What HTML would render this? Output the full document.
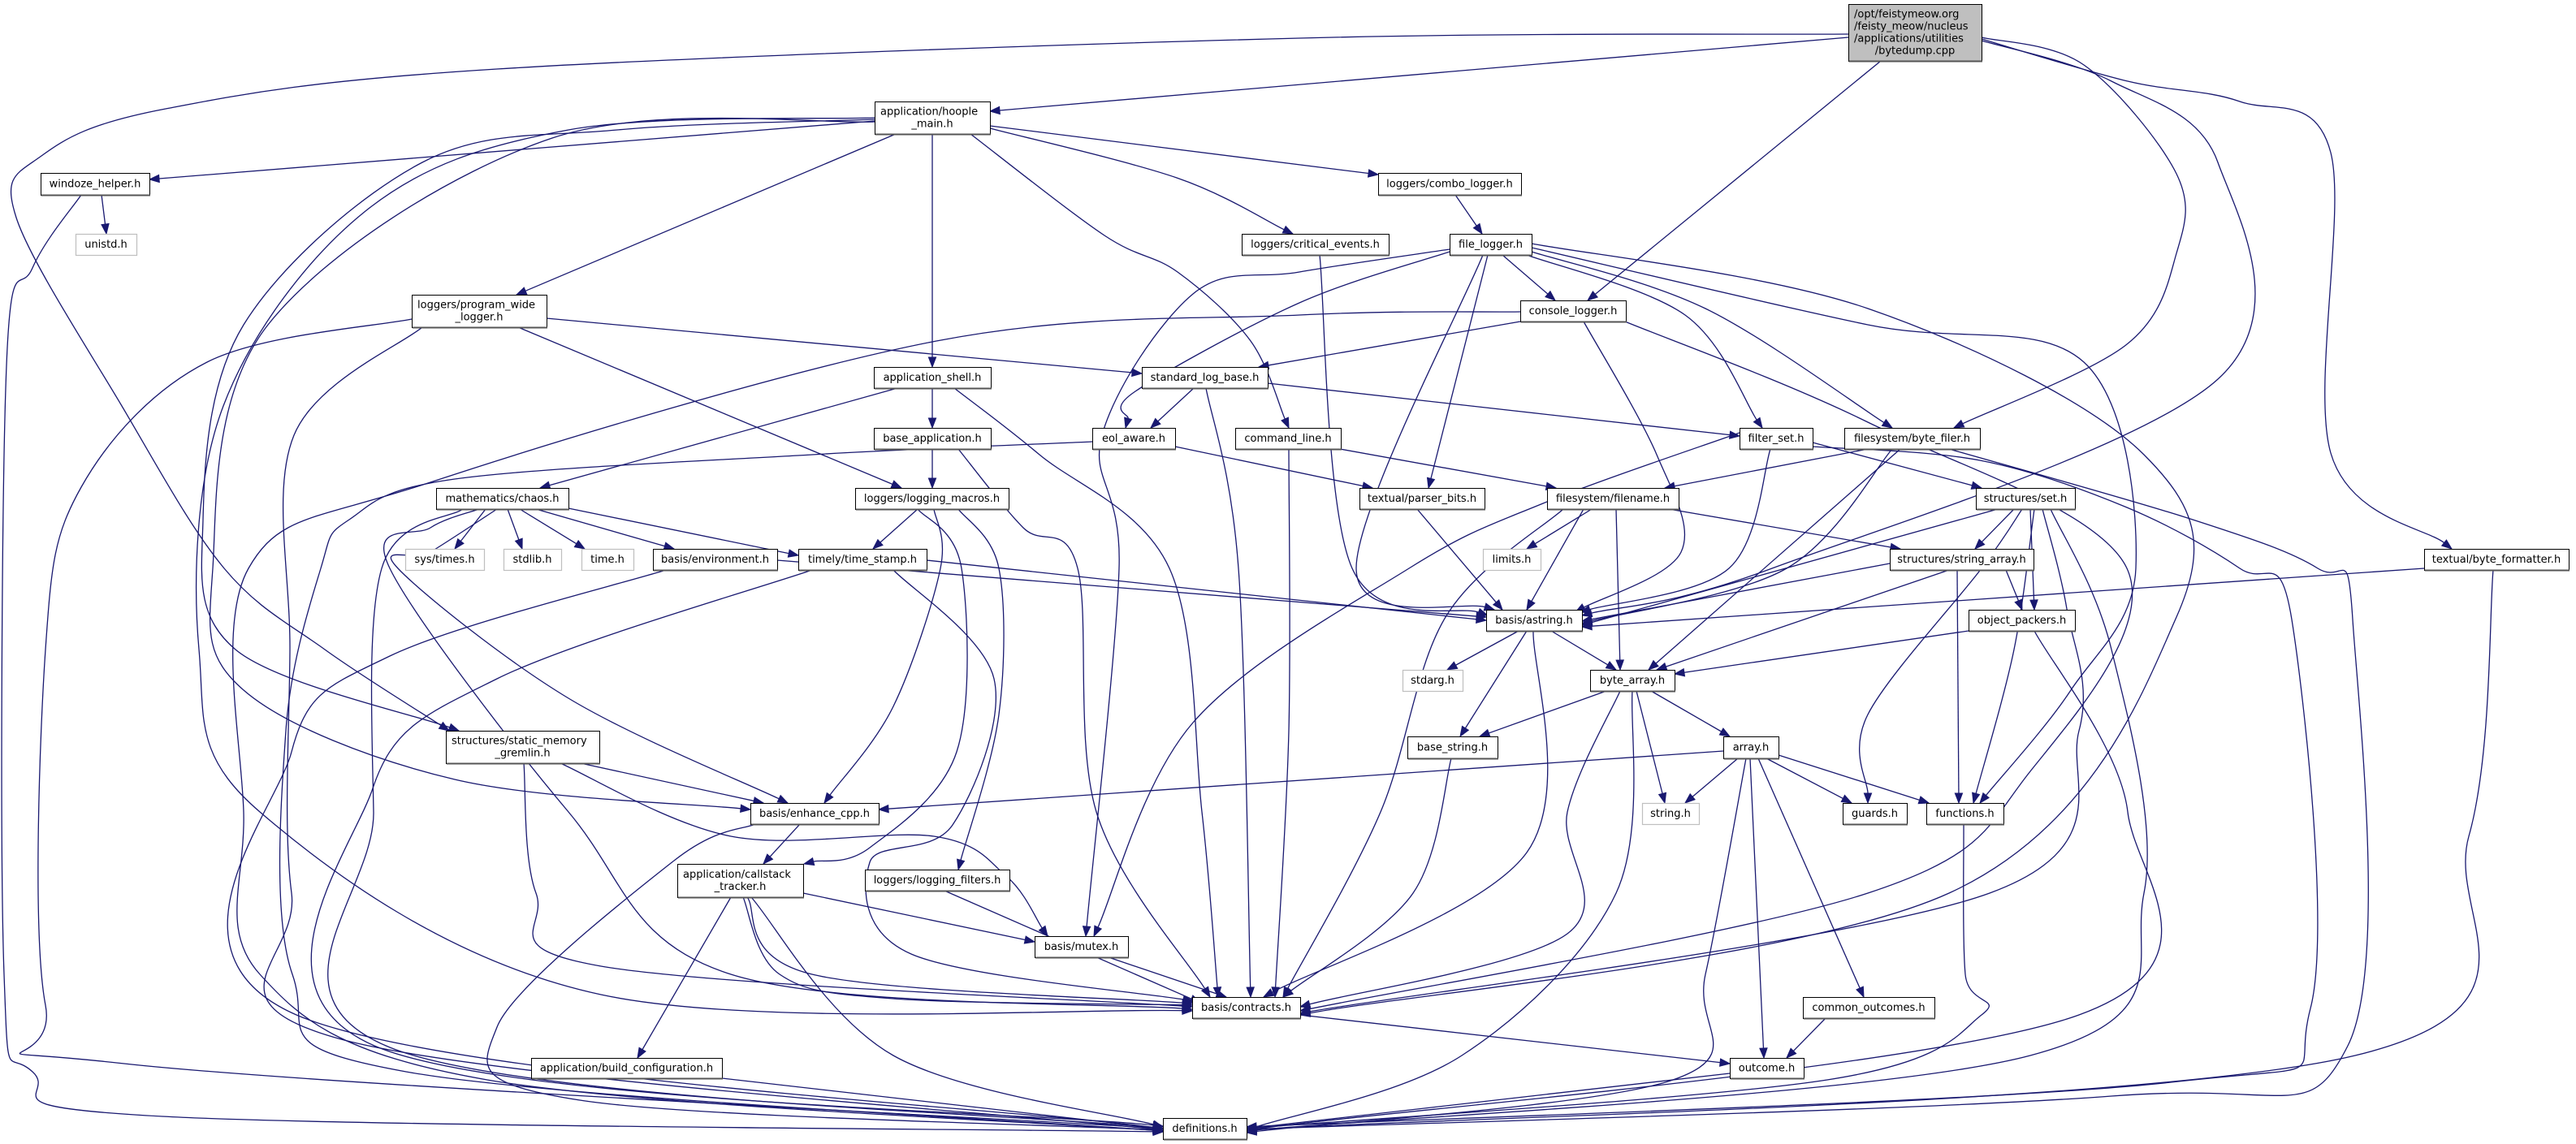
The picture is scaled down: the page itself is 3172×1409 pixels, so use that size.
<!DOCTYPE html>
<html><head><meta charset="utf-8"><style>
html,body{margin:0;padding:0;background:#fff;}
svg{display:block;}
text{font-family:"DejaVu Sans","Liberation Sans",sans-serif;font-size:13px;fill:#000;}
</style></head><body>
<svg id="g" xmlns="http://www.w3.org/2000/svg" width="3172" height="1409" viewBox="0 0 3172 1409">
<g id="edges" fill="none" stroke="#191970" stroke-width="1.3"></g>
<g id="heads" fill="#191970" stroke="#191970" stroke-width="1"></g>
<g id="nodes"></g>
</svg>
<script>
(function(){
var N={
root:[2276,5,2440,75,["/opt/feistymeow.org","/feisty_meow/nucleus","/applications/utilities","/bytedump.cpp"],2],
hoople:[1077,125,1219,165,["application/hoople","_main.h"]],
windoze:[50,213,184,240,["windoze_helper.h"]],
unistd:[93,288,168,314,["unistd.h"],1],
pwl:[507,363,673,403,["loggers/program_wide","_logger.h"]],
combo:[1697,213,1873,240,["loggers/combo_logger.h"]],
critical:[1529,288,1710,314,["loggers/critical_events.h"]],
filelog:[1785,288,1886,314,["file_logger.h"]],
console:[1872,370,2002,396,["console_logger.h"]],
appshell:[1076,452,1220,478,["application_shell.h"]],
slb:[1406,452,1561,478,["standard_log_base.h"]],
baseapp:[1076,527,1220,553,["base_application.h"]],
eol:[1345,527,1447,553,["eol_aware.h"]],
cmd:[1521,527,1651,553,["command_line.h"]],
filter:[2142,527,2232,553,["filter_set.h"]],
bfiler:[2271,527,2438,553,["filesystem/byte_filer.h"]],
chaos:[537,601,700,627,["mathematics/chaos.h"]],
lmac:[1053,601,1242,627,["loggers/logging_macros.h"]],
parser:[1674,601,1828,627,["textual/parser_bits.h"]],
fname:[1905,601,2067,627,["filesystem/filename.h"]],
set:[2433,601,2555,627,["structures/set.h"]],
systimes:[499,676,596,702,["sys/times.h"],1],
stdlib:[620,676,691,702,["stdlib.h"],1],
timeh:[716,676,780,702,["time.h"],1],
env:[804,676,957,702,["basis/environment.h"]],
tstamp:[983,676,1141,702,["timely/time_stamp.h"]],
limits:[1826,676,1897,702,["limits.h"],1],
sarr:[2327,676,2504,702,["structures/string_array.h"]],
bfmt:[2985,676,3163,702,["textual/byte_formatter.h"]],
astring:[1830,751,1948,777,["basis/astring.h"]],
opack:[2424,751,2555,777,["object_packers.h"]],
stdarg:[1727,825,1801,851,["stdarg.h"],1],
barr:[1958,825,2062,851,["byte_array.h"]],
bstr:[1733,907,1844,934,["base_string.h"]],
array:[2122,907,2190,934,["array.h"]],
gremlin:[549,900,738,940,["structures/static_memory","_gremlin.h"]],
enh:[924,989,1082,1015,["basis/enhance_cpp.h"]],
stringh:[2022,989,2092,1015,["string.h"],1],
guards:[2269,989,2348,1015,["guards.h"]],
funcs:[2372,989,2467,1015,["functions.h"]],
cst:[834,1064,989,1105,["application/callstack","_tracker.h"]],
lfilt:[1065,1071,1243,1097,["loggers/logging_filters.h"]],
mutex:[1274,1153,1389,1179,["basis/mutex.h"]],
contracts:[1468,1228,1601,1254,["basis/contracts.h"]],
common:[2220,1228,2382,1254,["common_outcomes.h"]],
build:[654,1303,889,1328,["application/build_configuration.h"]],
outcome:[2130,1303,2221,1328,["outcome.h"]],
defs:[1432,1377,1535,1403,["definitions.h"]]
};
var E=[
[[2276,46],[1219,137]],
[[2276,42],[1600,47],[612,85],[204,134],[51,192],[20,268],[150,500],[276,700],[400,800],[553,900]],
[[2316,75],[1955,370]],
[[2440,46],[2566,80],[2680,214],[2680,312],[2619,424],[2406,527]],
[[2440,50],[2600,100],[2731,200],[2731,467],[2182,700],[1948,758]],
[[2440,48],[2620,100],[2758,125],[2870,188],[2870,558],[3019,676]],
[[1077,149],[184,221]],
[[1103,165],[636,363]],
[[1148,165],[1148,452]],
[[1195,165],[1360,290],[1450,335],[1540,420],[1587,527]],
[[1219,158],[1449,219],[1592,288]],
[[1219,155],[1697,215]],
[[1077,147],[760,160],[520,200],[300,400],[250,640],[290,800],[565,900]],
[[1077,145],[700,160],[450,260],[275,500],[245,800],[320,1000],[740,1225],[1468,1245]],
[[1077,150],[680,170],[330,400],[262,700],[300,850],[560,960],[924,997]],
[[125,240],[131,288]],
[[100,240],[40,330],[8,450],[5,1200],[40,1320],[200,1375],[1432,1394]],
[[673,392],[1406,460]],
[[638,403],[1110,601]],
[[507,393],[255,446],[100,600],[56,800],[56,1238],[153,1310],[1432,1390]],
[[520,403],[362,536],[357,800],[359,1100],[420,1280],[1432,1392]],
[[1872,396],[1550,452]],
[[1872,384],[1600,388],[1153,420],[530,594],[306,700],[300,1000],[320,1200],[600,1330],[1432,1393]],
[[1950,396],[2040,560],[2070,680],[1940,754]],
[[2001,396],[2300,520],[2619,700],[2500,950],[2300,1100],[1601,1245]],
[[1850,314],[1915,370]],
[[1785,310],[1600,373],[1398,482],[1386,527]],
[[1785,307],[1600,335],[1469,362],[1357,536],[1378,700],[1337,1153]],
[[1832,314],[1759,601]],
[[1826,314],[1670,700],[1840,751]],
[[1880,314],[2075,388],[2170,527]],
[[1886,310],[2100,380],[2330,527]],
[[1886,305],[2300,400],[2566,446],[2630,700],[2550,850],[2438,989]],
[[1886,300],[2300,380],[2640,560],[2680,760],[2400,1100],[1601,1250]],
[[1792,240],[1825,288]],
[[1625,314],[1665,700],[1832,758]],
[[1105,478],[665,601]],
[[1148,478],[1148,527]],
[[1175,478],[1280,560],[1440,700],[1480,1000],[1500,1228]],
[[1470,478],[1417,527]],
[[1561,472],[2142,537]],
[[1485,478],[1525,700],[1540,1228]],
[[1148,553],[1148,601]],
[[1180,553],[1260,650],[1327,700],[1350,1000],[1490,1228]],
[[1447,550],[1690,601]],
[[1345,544],[1000,560],[560,590],[430,640],[395,700],[352,900],[360,1200],[500,1320],[1432,1393]],
[[1650,553],[1916,601]],
[[1587,553],[1587,900],[1570,1228]],
[[2142,533],[1900,620],[1735,700],[1469,890],[1347,1153]],
[[2180,553],[2129,700],[1946,754]],
[[2232,545],[2440,601]],
[[2232,550],[2438,567],[2619,625],[2758,700],[2822,763],[2845,1242],[2673,1333],[1535,1388]],
[[2300,553],[2050,601]],
[[2330,553],[2200,700],[1948,768]],
[[2340,553],[2030,825]],
[[2400,553],[2700,640],[2854,700],[2897,763],[2891,1288],[2600,1350],[1535,1391]],
[[598,627],[560,676]],
[[625,627],[643,676]],
[[640,627],[720,676]],
[[660,627],[830,676]],
[[695,625],[983,684]],
[[612,627],[530,680],[490,700],[700,860],[970,989]],
[[570,627],[470,700],[460,1000],[480,1290],[1432,1390]],
[[590,627],[530,650],[480,700],[700,1000],[900,1200],[1468,1243]],
[[1141,690],[1830,764]],
[[1000,702],[612,836],[459,971],[461,1288],[1432,1387]],
[[1100,702],[1224,836],[1173,1016],[1071,1062],[1122,1175],[1469,1233]],
[[957,690],[1830,760]],
[[820,702],[480,808],[359,926],[365,1250],[1432,1390]],
[[1130,627],[1075,676]],
[[1150,627],[1158,700],[1100,870],[1015,989]],
[[1130,627],[1184,700],[1178,926],[1071,1044],[990,1064]],
[[1180,627],[1230,700],[1230,880],[1180,1071]],
[[1745,627],[1850,751]],
[[1960,627],[1880,676]],
[[1950,627],[1880,751]],
[[1990,627],[1995,825]],
[[2055,627],[2340,676]],
[[1925,627],[1780,760],[1700,1000],[1580,1228]],
[[2480,627],[2432,676]],
[[2500,627],[2505,751]],
[[2460,627],[1948,770]],
[[2490,627],[2440,700],[2300,880],[2300,989]],
[[2505,627],[2480,800],[2430,989]],
[[2515,627],[2545,750],[2560,900],[2450,1100],[1601,1248]],
[[2525,627],[2600,800],[2640,1100],[2500,1300],[1535,1393]],
[[2327,694],[1948,765]],
[[2470,702],[2490,751]],
[[2400,702],[2040,825]],
[[2410,702],[2412,989]],
[[2985,700],[1948,772]],
[[3070,702],[3040,1030],[2900,1300],[1535,1392]],
[[1870,777],[1782,825]],
[[1910,777],[1990,825]],
[[1880,777],[1798,907]],
[[1888,777],[1880,1050],[1556,1228]],
[[2424,777],[2062,830]],
[[2505,777],[2620,1000],[2560,1250],[1535,1392]],
[[1978,851],[1822,907]],
[[2033,851],[2130,907]],
[[2015,851],[2050,989]],
[[1995,851],[1930,1000],[1930,1150],[1601,1240]],
[[2010,851],[1990,1100],[1800,1300],[1535,1392]],
[[2122,925],[1082,997]],
[[2140,934],[2075,989]],
[[2175,934],[2280,989]],
[[2190,930],[2375,989]],
[[2165,934],[2295,1228]],
[[2155,934],[2172,1303]],
[[2150,934],[2100,1200],[2060,1330],[1535,1395]],
[[1787,934],[1740,1100],[1580,1228]],
[[2418,1015],[2420,1200],[2440,1250],[2250,1330],[1535,1390]],
[[715,940],[940,989]],
[[690,940],[900,1030],[1150,1030],[1240,1080],[1290,1153]],
[[645,940],[660,1100],[740,1190],[1468,1240]],
[[985,1015],[940,1064]],
[[930,1015],[830,1060],[612,1265],[714,1355],[1432,1392]],
[[989,1100],[1274,1160]],
[[920,1105],[1000,1200],[1468,1236]],
[[915,1105],[960,1200],[1100,1230],[1468,1238]],
[[900,1105],[785,1303]],
[[925,1105],[1100,1300],[1432,1388]],
[[1163,1097],[1478,1235]],
[[1365,1179],[1510,1228]],
[[1601,1250],[2130,1310]],
[[2248,1254],[2200,1303]],
[[2130,1322],[1535,1390]],
[[889,1328],[1432,1390]]
];
var NS="http://www.w3.org/2000/svg";
function el(t,a,p){var e=document.createElementNS(NS,t);for(var q in a)e.setAttribute(q,a[q]);p.appendChild(e);return e;}
var eg=document.getElementById('edges'),hg=document.getElementById('heads'),ng=document.getElementById('nodes');
E.forEach(function(P){
  var n=P.length,tip=P[n-1],prev=P[n-2];
  var dx=tip[0]-prev[0],dy=tip[1]-prev[1],L=Math.hypot(dx,dy)||1;dx/=L;dy/=L;
  var al=12,aw=4.6;
  var end=[tip[0]-dx*al,tip[1]-dy*al];
  var pts=P.slice(0,n-1).concat([end]);
  var d="M"+pts[0][0]+","+pts[0][1];
  if(pts.length==2){d+=" L"+end[0]+","+end[1];}
  else{
    for(var i=0;i<pts.length-1;i++){
      var p0=pts[i-1]||pts[i],p1=pts[i],p2=pts[i+1],p3=pts[i+2]||pts[i+1];
      var c1=[p1[0]+(p2[0]-p0[0])/6,p1[1]+(p2[1]-p0[1])/6];
      var c2=[p2[0]-(p3[0]-p1[0])/6,p2[1]-(p3[1]-p1[1])/6];
      d+=" C"+c1[0].toFixed(1)+","+c1[1].toFixed(1)+" "+c2[0].toFixed(1)+","+c2[1].toFixed(1)+" "+p2[0].toFixed(1)+","+p2[1].toFixed(1);
    }
  }
  el('path',{d:d},eg);
  var px=-dy,py=dx;
  el('polygon',{points:tip[0]+","+tip[1]+" "+(end[0]+px*aw)+","+(end[1]+py*aw)+" "+(end[0]-px*aw)+","+(end[1]-py*aw)},hg);
});
for(var key in N){
  var b=N[key],x0=b[0],y0=b[1],x1=b[2],y1=b[3],lines=b[4],kind=b[5]||0;
  var w=x1-x0,h=y1-y0;
  if(kind==1){
    el('rect',{x:x0+0.5,y:y0+0.5,width:w,height:h,fill:'#fff',stroke:'#bfbfbf','stroke-width':1.2},ng);
  }else{
    el('rect',{x:x0+0.5,y:y0+0.5,width:w,height:h,fill:kind==2?'#bfbfbf':'#fff',stroke:'#000','stroke-width':1},ng);
    el('line',{x1:x0+1,y1:y1+0.5,x2:x1+1,y2:y1+0.5,stroke:'#555','stroke-width':2},ng);
  }
  var nl=lines.length,lh=15;
  var ty=y0+h/2-(nl*lh)/2+11.5;
  for(var i=0;i<nl;i++){
    var last=(i==nl-1),t;
    if(nl>1&&!last){t=el('text',{x:x0+7,y:ty+i*lh},ng);}
    else{t=el('text',{x:x0+w/2,y:ty+i*lh,'text-anchor':'middle'},ng);}
    t.textContent=lines[i];
  }
}
})();
</script>
</body></html>
